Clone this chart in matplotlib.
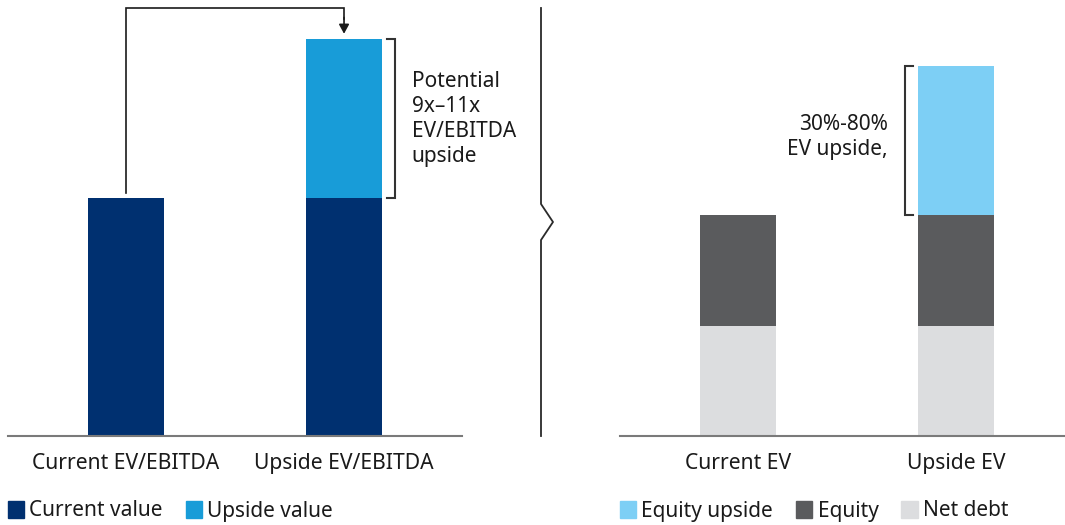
import numpy as np
import matplotlib.pyplot as plt
from matplotlib.patches import Patch
from matplotlib.lines import Line2D

plt.rcParams['font.family'] = ['Noto Sans', 'DejaVu Sans']

# left panel data
left_cats = ['Current EV/EBITDA', 'Upside EV/EBITDA']
current_value = [6.0, 6.0]
upside_value = [0.0, 4.0]

# right panel data
right_cats = ['Current EV', 'Upside EV']
net_debt = [3.0, 3.0]
equity = [3.05, 3.05]
equity_upside = [0.0, 4.05]

NAVY = '#003070'
BLUE = '#189cd8'
LIGHT_BLUE = '#7dcff5'
GREY = '#5a5b5d'
LIGHT_GREY = '#dcdddf'
TXT = '#1a1a1a'
AXIS = '#7a7a7a'

W, H = 1065, 525
fig = plt.figure(figsize=(W / 100, H / 100), dpi=100)


def px_axes(x0, x1, ybase, ytop):
    return fig.add_axes([x0 / W, (H - ybase) / H, (x1 - x0) / W, (ybase - ytop) / H])


def style(ax):
    for s in ['top', 'right', 'left']:
        ax.spines[s].set_visible(False)
    ax.spines['bottom'].set_color(AXIS)
    ax.spines['bottom'].set_linewidth(1.5)
    ax.set_yticks([])
    ax.tick_params(axis='x', length=0, pad=12, labelsize=15.2, labelcolor=TXT)


def legend(ax, handles, x0):
    ax.legend(handles=handles, loc='center left',
              bbox_to_anchor=(x0 / W, (H - 511) / H),
              bbox_transform=fig.transFigure, ncol=len(handles), frameon=False,
              fontsize=15, handlelength=0.78, handleheight=0.85,
              handletextpad=0.25, columnspacing=1.1, borderpad=0,
              borderaxespad=0, labelcolor=TXT)


# ---- left panel ----
ax1 = px_axes(8, 462, 436, 5)
style(ax1)
x = np.arange(len(left_cats))
bw = 0.349
ax1.bar(x, current_value, bw, color=NAVY)
ax1.bar(x, upside_value, bw, bottom=current_value, color=BLUE)
ax1.set_xlim(-0.541, 1.541)
ax1.set_ylim(0, 10.865)
ax1.set_xticks(x, left_cats)

top1 = current_value[1] + upside_value[1]
# arrow from current bar to upside bar
ax1.plot([0, 0, 1, 1], [current_value[0] + 0.13, 10.8, 10.8, 10.5],
         color=TXT, lw=1.2, solid_joinstyle='miter')
ax1.annotate('', xy=(1, top1 + 0.14), xytext=(1, 10.55),
             arrowprops=dict(arrowstyle='-|>,head_length=0.55,head_width=0.3',
                             color=TXT, lw=1.2, shrinkA=0, shrinkB=0))
# bracket
bx0, bx1 = 1 + bw / 2 + 0.0216, 1 + bw / 2 + 0.0596
ax1.plot([bx0, bx1, bx1, bx0], [top1, top1, current_value[1], current_value[1]],
         color='#333333', lw=1.5, solid_joinstyle='miter')
ax1.text(1.31, current_value[1] + upside_value[1] / 2,
         'Potential\n9x\u201311x\nEV/EBITDA\nupside',
         ha='left', va='center', fontsize=15, color=TXT, linespacing=1.25)

legend(ax1, [Patch(color=NAVY, label='Current value'),
             Patch(color=BLUE, label='Upside value')], 8)

# ---- right panel ----
ax2 = px_axes(620, 1065, 436, 5)
style(ax2)
xr = np.arange(len(right_cats))
bw2 = 0.349
up_bottom = [a + b for a, b in zip(net_debt, equity)]
ax2.bar(xr, net_debt, bw2, color=LIGHT_GREY)
ax2.bar(xr, equity, bw2, bottom=net_debt, color=GREY)
ax2.bar(xr, equity_upside, bw2, bottom=up_bottom, color=LIGHT_BLUE)
ax2.set_xlim(-0.541, 1.5)
ax2.set_ylim(0, 11.78)
ax2.set_xticks(xr, right_cats)

top2 = up_bottom[1] + equity_upside[1]
cx0, cx1 = 1 - bw2 / 2 - 0.0596, 1 - bw2 / 2 - 0.024
ax2.plot([cx1, cx0, cx0, cx1], [top2, top2, up_bottom[1], up_bottom[1]],
         color='#333333', lw=1.5, solid_joinstyle='miter')
ax2.text(0.688, up_bottom[1] + equity_upside[1] / 2 + 0.1, '30%-80%\nEV upside,',
         ha='right', va='center', multialignment='right', fontsize=15,
         color=TXT, linespacing=1.25)

legend(ax2, [Patch(color=LIGHT_BLUE, label='Equity upside'),
             Patch(color=GREY, label='Equity'),
             Patch(color=LIGHT_GREY, label='Net debt')], 620)

# ---- divider with notch ----
dx = [541, 541, 553, 541, 541]
dy = [8, 204, 222, 240, 436]
fig.add_artist(Line2D([v / W for v in dx], [(H - v) / H for v in dy],
                      transform=fig.transFigure, color='#2a2a2a', lw=1.3))

fig.savefig('out.png', dpi=100)
